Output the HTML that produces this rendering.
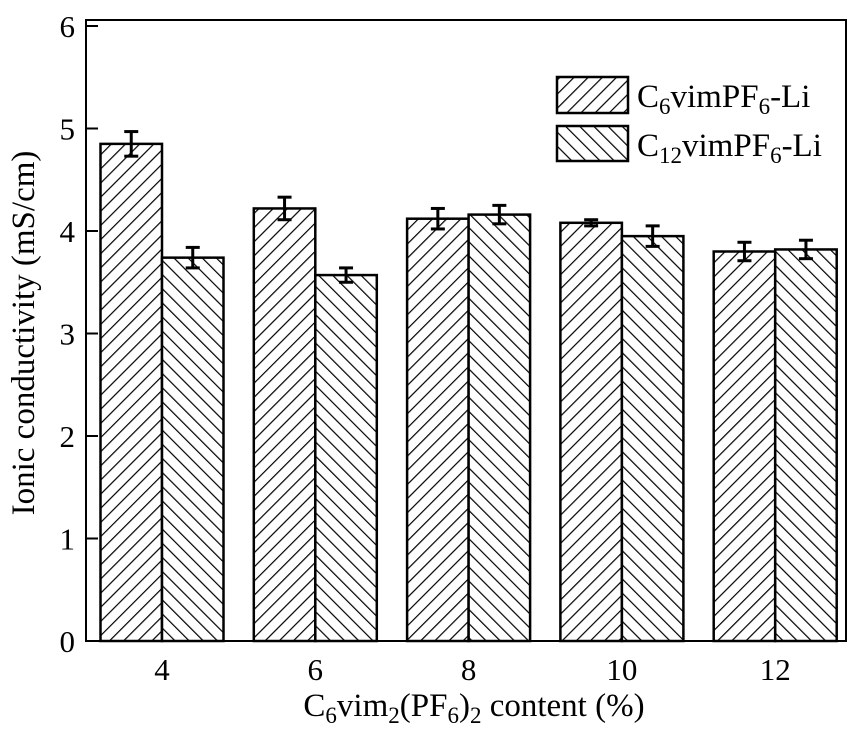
<!DOCTYPE html>
<html><head><meta charset="utf-8"><style>
body{margin:0;background:#fff;}
svg text{font-family:"Liberation Serif",serif;fill:#000;}
</style></head><body>
<svg id="chart" width="858" height="737" xmlns="http://www.w3.org/2000/svg">
<defs>
<pattern id="hatchA" patternUnits="userSpaceOnUse" width="10" height="10" patternTransform="rotate(45)">
<rect width="10" height="10" fill="#fff"/><line x1="0" y1="0" x2="0" y2="10" stroke="#000" stroke-width="2.4"/></pattern>
<pattern id="hatchB" patternUnits="userSpaceOnUse" width="10" height="10" patternTransform="rotate(-45)">
<rect width="10" height="10" fill="#fff"/><line x1="0" y1="0" x2="0" y2="10" stroke="#000" stroke-width="2.4"/></pattern>
</defs>
<g id="bars"></g>
<g id="axes"></g>
</svg>
<script>
const categories = ["4","6","8","10","12"];
const seriesA = [4.85,4.22,4.12,4.08,3.80];
const errA = [0.12,0.11,0.10,0.03,0.09];
const seriesB = [3.74,3.57,4.16,3.95,3.82];
const errB = [0.10,0.07,0.09,0.10,0.09];
const yTicks = [0,1,2,3,4,5,6];

const NS="http://www.w3.org/2000/svg";
const X0=86,X1=846,Y0=641,Y1=26;
const y=v=>Y0-(v/6)*(Y0-Y1);
const xc=i=>162+i*153.3;
const BW=61.5;
function mk(t,a,p){const e=document.createElementNS(NS,t);for(const k in a)e.setAttribute(k,a[k]);(p||document.getElementById('chart')).appendChild(e);return e;}
const bars=document.getElementById('bars'), axes=document.getElementById('axes');
function drawBar(x,v,err,fill,name){
  const r=mk('rect',{x:x,y:y(v),width:BW,height:Y0-y(v),fill:fill,stroke:'#000','stroke-width':2.5},bars);
  
  
  const cx=x+BW/2;
  const g=mk('g',{stroke:'#000','stroke-width':3},bars);
  
  
  mk('line',{x1:cx,x2:cx,y1:y(v+err),y2:y(v-err)},g);
  mk('line',{x1:cx-7,x2:cx+7,y1:y(v+err),y2:y(v+err)},g);
  mk('line',{x1:cx-7,x2:cx+7,y1:y(v-err),y2:y(v-err)},g);
}
categories.forEach((c,i)=>{
  drawBar(xc(i)-BW,seriesA[i],errA[i],'url(#hatchA)','bar-c6-'+c);
  drawBar(xc(i),seriesB[i],errB[i],'url(#hatchB)','bar-c12-'+c);
  mk('line',{x1:xc(i),x2:xc(i),y1:Y0,y2:Y0-10,stroke:'#000','stroke-width':2},axes);
  const l=mk('text',{x:xc(i),y:680,'text-anchor':'middle','font-size':31},axes);
  l.textContent=c;
  
  
});
const frame=mk('rect',{x:X0,y:Y1-6,width:X1-X0,height:Y0-Y1+6,fill:'none',stroke:'#000','stroke-width':2},axes);


yTicks.forEach(v=>{
  mk('line',{x1:X0,x2:X0+12,y1:y(v),y2:y(v),stroke:'#000','stroke-width':2},axes);
  const l=mk('text',{x:X0-11,y:y(v)+11,'text-anchor':'end','font-size':31},axes);
  l.textContent=v;
  
  
});
</script>
<svg width="858" height="737" style="position:absolute;left:0;top:0" xmlns="http://www.w3.org/2000/svg">
<text transform="translate(34,333) rotate(-90)" text-anchor="middle" font-size="33">Ionic conductivity (mS/cm)</text>
<text x="474" y="716" text-anchor="middle" font-size="33">C<tspan font-size="23" dy="7">6</tspan><tspan dy="-7">vim</tspan><tspan font-size="23" dy="7">2</tspan><tspan dy="-7">(PF</tspan><tspan font-size="23" dy="7">6</tspan><tspan dy="-7">)</tspan><tspan font-size="23" dy="7">2</tspan><tspan dy="-7"> content (%)</tspan></text>
<g>
<rect x="557" y="77" width="71" height="36" fill="url(#hatchA)" stroke="#000" stroke-width="2.5"/>
<text x="637" y="107" font-size="33">C<tspan font-size="23" dy="7">6</tspan><tspan dy="-7">vimPF</tspan><tspan font-size="23" dy="7">6</tspan><tspan dy="-7">-Li</tspan></text>
<rect x="557" y="126" width="71" height="35" fill="url(#hatchB)" stroke="#000" stroke-width="2.5"/>
<text x="637" y="156" font-size="33">C<tspan font-size="23" dy="7">12</tspan><tspan dy="-7">vimPF</tspan><tspan font-size="23" dy="7">6</tspan><tspan dy="-7">-Li</tspan></text>
</g>
</svg>
</body></html>
